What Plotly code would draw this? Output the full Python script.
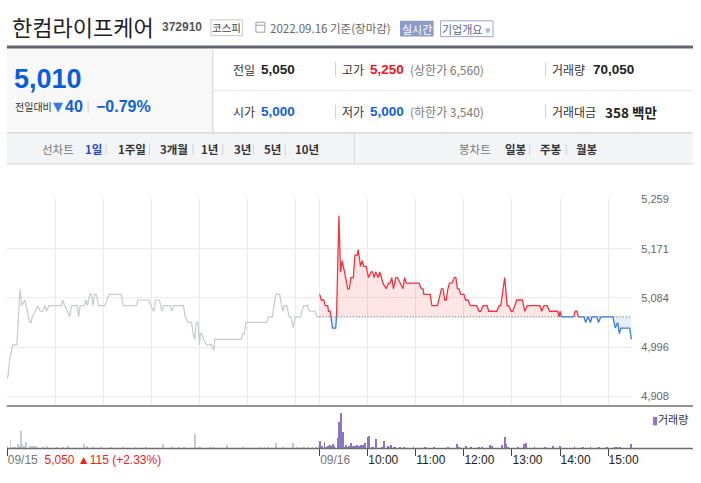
import plotly.graph_objects as go

# ---------------- data ----------------
stock_name = "한컴라이프케어"
stock_code = "372910"
market = "코스피"
as_of = "2022.09.16 기준(장마감)"
current_price = "5,010"
change_abs = "40"
change_pct = "−0.79%"
prev_close = 5050

info_row1 = [("전일", "5,050", "#222"), ("고가", "5,250", "#f0141e"), ("거래량", "70,050", "#222")]
info_row2 = [("시가", "5,000", "#1060d8"), ("저가", "5,000", "#1060d8"), ("거래대금", "358 백만", "#222")]
limit_texts = ["(상한가 6,560)", "(하한가 3,540)"]

line_tabs = ["1일", "1주일", "3개월", "1년", "3년", "5년", "10년"]
candle_tabs = ["일봉", "주봉", "월봉"]

day1_time = ["09:00","09:01","09:03","09:05","09:07","09:12","09:16","09:18","09:22","09:25",
             "09:28","09:30","09:31","09:35","09:38","09:41","09:44","09:47","09:49","09:52",
             "10:08","10:09","10:12","10:15","10:18","10:20","10:27","10:29","10:31","10:36",
             "10:38","10:40","10:43","10:45","10:47","10:49","10:51","10:54","11:02","11:07",
             "11:22","11:25","11:41","11:43","11:57","11:59","12:03","12:05","12:10","12:13",
             "12:15","12:24","12:25","12:28","12:40","12:42","12:46","12:50","12:52","12:54",
             "12:56","12:58","13:00","13:01","13:03","13:05","13:09","13:15","13:18","13:19",
             "13:52","13:54","13:56","13:58","14:24","14:26","14:31","14:35","14:40","14:44",
             "14:46","14:49","14:52","14:54","14:57","14:59","15:06","15:10","15:15","15:17",
             "15:24","15:27","15:30"]
day1_price = [4940,4945,4975,4990,5000,5000,5100,5070,5080,5060,
              5040,5040,5050,5060,5070,5060,5060,5070,5060,5070,
              5070,5080,5070,5060,5050,5070,5070,5050,5070,5070,
              5080,5070,5090,5090,5070,5090,5090,5070,5070,5090,
              5090,5070,5070,5080,5080,5070,5060,5080,5080,5060,
              5070,5070,5060,5070,5070,5050,5040,5040,5020,5010,
              5040,5040,5000,5020,5020,5010,5000,5000,4990,5010,
              5010,5020,5020,5040,5040,5050,5050,5090,5090,5060,
              5070,5070,5050,5050,5030,5050,5050,5070,5070,5060,
              5060,5050,5050]

day2_time = ["09:00","09:02","09:05","09:07","09:10","09:11","09:13","09:14","09:16","09:20",
             "09:21","09:24","09:26","09:28","09:31","09:35","09:37","09:39","09:42","09:44",
             "09:47","09:48","09:51","09:53","09:55","09:58","10:01","10:04","10:06","10:08",
             "10:10","10:13","10:15","10:17","10:19","10:23","10:26","10:28","10:30","10:32",
             "10:35","10:37","10:40","10:43","10:44","10:46","10:48","11:04","11:07","11:09",
             "11:10","11:18","11:20","11:27","11:32","11:34","11:36","11:38","11:40","11:42",
             "11:45","11:48","11:50","11:52","11:54","11:56","12:00","12:02","12:05","12:08",
             "12:16","12:19","12:21","12:24","12:29","12:31","12:41","12:44","12:46","12:51",
             "12:54","12:56","12:59","13:01","13:04","13:06","13:13","13:16","13:19","13:35",
             "13:37","13:40","13:44","13:47","13:57","13:59","14:00","14:02","14:17","14:19",
             "14:21","14:23","14:30","14:32","14:35","14:38","14:40","14:46","14:48","14:51",
             "15:06","15:09","15:12","15:14","15:16","15:27","15:29"]
day2_price = [5090,5080,5080,5070,5070,5060,5060,5050,5030,5030,
              5050,5230,5130,5150,5130,5100,5100,5120,5120,5160,
              5160,5170,5140,5150,5140,5140,5120,5130,5130,5120,
              5130,5120,5130,5120,5110,5100,5110,5110,5120,5100,
              5120,5120,5110,5100,5100,5120,5110,5110,5100,5100,
              5090,5090,5070,5070,5100,5100,5080,5080,5100,5110,
              5110,5120,5120,5100,5100,5090,5090,5080,5080,5070,
              5070,5060,5060,5070,5070,5060,5060,5070,5070,5120,
              5070,5070,5060,5060,5070,5080,5080,5060,5070,5070,
              5060,5070,5070,5060,5060,5050,5060,5050,5050,5060,
              5060,5050,5050,5040,5050,5040,5050,5050,5040,5050,
              5050,5030,5040,5020,5030,5030,5010]

vol1_time = ["09:00","09:04","09:07","09:10","09:13","09:15","09:17","09:19","09:21","09:23",
             "09:28","09:31","09:33","09:36","09:44","09:50","10:02","10:10","10:16","10:36",
             "10:39","10:47","10:57","11:09","11:24","11:40","11:53","12:14","12:26","12:34",
             "12:40","12:54","12:59","13:01","13:13","13:17","13:34","13:54","14:16","14:21",
             "14:25","14:35","14:44","14:57","15:02","15:06","15:10","15:15","15:21","15:25",
             "15:29"]
vol1 = [680,2250,330,330,1180,750,4330,1080,750,1750,
        750,500,500,500,250,750,250,330,500,1080,
        500,250,330,250,250,250,250,1080,330,250,
        250,3580,330,250,330,250,830,250,330,330,
        250,1500,250,1330,330,250,250,250,330,250,
        830]

vol2_time = ["09:00","09:02","09:03","09:06","09:08","09:10","09:13","09:15","09:16","09:18",
             "09:23","09:24","09:26","09:28","09:29","09:31","09:33","09:35","09:37","09:39",
             "09:41","09:44","09:47","09:49","09:52","09:54","09:56","10:00","10:02","10:05",
             "10:07","10:10","10:18","10:20","10:25","10:28","10:29","10:32","10:34","10:40",
             "10:45","10:57","11:11","11:23","11:40","11:51","11:54","12:03","12:09","12:19",
             "12:22","12:33","12:35","12:48","12:51","12:53","12:55","13:07","13:15","13:17",
             "13:28","13:41","13:51","14:00","14:18","14:29","14:38","14:49","14:59","15:08",
             "15:11","15:15","15:29"]
vol2 = [2000,250,500,1680,250,680,1000,500,1180,680,
        2680,6750,9000,2830,4180,330,830,330,500,1430,
        680,680,830,680,830,1000,1330,2830,3180,330,
        330,2430,330,1930,680,330,1000,330,330,250,
        330,250,330,330,250,1080,330,580,250,330,
        330,930,580,830,2830,1080,250,330,1180,1330,
        250,250,680,580,250,250,250,330,250,330,
        330,330,1080]

price_ticks = [4908, 4996, 5084, 5171, 5259]
day_labels = ["09/15", "09/16"]
hour_labels = ["10:00", "11:00", "12:00", "13:00", "14:00", "15:00"]
day1_change = "5,050 ▲115 (+2.33%)"

# ---------------- helpers ----------------
W, H = 701, 483
def PX(x): return x / W
def PY(y): return 1 - y / H
def tmin(s):
    h, m = s.split(":")
    return (int(h) - 9) * 60 + int(m)

SESSION = 390
x1 = [tmin(t) for t in day1_time]
x2 = [SESSION + tmin(t) for t in day2_time]
vx1 = [tmin(t) for t in vol1_time]
vx2 = [SESSION + tmin(t) for t in vol2_time]

KR = "Noto Sans CJK KR"
AR = "Liberation Sans"
RED = "#f5333f"
BLUE = "#3a7be0"

# split day-2 line into above/below previous-close segments
red_x, red_y, blue_x, blue_y = [], [], [], []
for i in range(len(day2_price) - 1):
    a, b = day2_price[i], day2_price[i + 1]
    is_red = min(a, b) >= prev_close and max(a, b) > prev_close
    tx, ty = (red_x, red_y) if is_red else (blue_x, blue_y)
    if tx and tx[-1] == x2[i] and ty[-1] == a:
        tx.append(x2[i + 1]); ty.append(b)
    else:
        if tx:
            tx.append(None); ty.append(None)
        tx += [x2[i], x2[i + 1]]; ty += [a, b]

fig = go.Figure()
nohover = dict(hoverinfo="skip", showlegend=False)

fig.add_trace(go.Scatter(x=x1, y=day1_price, mode="lines",
                         line=dict(color="#c6c9cf", width=1.2), **nohover))
fig.add_trace(go.Scatter(x=[x2[0], x2[-1]], y=[prev_close, prev_close], mode="lines",
                         line=dict(width=0), **nohover))
fig.add_trace(go.Scatter(x=x2, y=[max(v, prev_close) for v in day2_price], mode="lines",
                         line=dict(width=0), fill="tonexty",
                         fillcolor="rgba(245,70,80,0.14)", **nohover))
fig.add_trace(go.Scatter(x=[x2[0], x2[-1]], y=[prev_close, prev_close], mode="lines",
                         line=dict(width=0), **nohover))
fig.add_trace(go.Scatter(x=x2, y=[min(v, prev_close) for v in day2_price], mode="lines",
                         line=dict(width=0), fill="tonexty",
                         fillcolor="rgba(58,123,224,0.13)", **nohover))
fig.add_trace(go.Scatter(x=[x2[0], x2[-1]], y=[prev_close, prev_close], mode="lines",
                         line=dict(color="#555", width=1, dash="1px,2px"), **nohover))
fig.add_trace(go.Scatter(x=red_x, y=red_y, mode="lines",
                         line=dict(color=RED, width=1.3), **nohover))
fig.add_trace(go.Scatter(x=blue_x, y=blue_y, mode="lines",
                         line=dict(color=BLUE, width=1.3), **nohover))

fig.add_trace(go.Bar(x=vx1, y=vol1, width=1.1, marker=dict(color="#c6c9cf", line=dict(width=0)),
                     xaxis="x2", yaxis="y2", **nohover))
fig.add_trace(go.Bar(x=vx2, y=vol2, width=1.1, marker=dict(color="#8b76c6", line=dict(width=0)),
                     xaxis="x2", yaxis="y2", **nohover))

grid_vals = [h * 60 for h in range(0, 7)] + [SESSION + h * 60 for h in range(0, 7)]
xdom = [PX(7), PX(638.5)]
xrange_ = [-0.4, 2 * SESSION]

label_vals = [0, SESSION] + [SESSION + 60 * (k + 1) for k in range(len(hour_labels))]
label_text = ([day_labels[0] + "  <span style='color:#ee2222'>" + day1_change + "</span>",
               day_labels[1]] +
              ["<span style='color:#222'>" + h + "</span>" for h in hour_labels])

fig.update_layout(
    width=W, height=H, margin=dict(l=0, r=0, t=0, b=0),
    paper_bgcolor="white", plot_bgcolor="white", hovermode=False,
    bargap=0, showlegend=False,
    xaxis=dict(domain=xdom, range=xrange_, anchor="y", tickvals=grid_vals,
               showticklabels=False, showgrid=True, gridcolor="#ebebeb", gridwidth=1,
               zeroline=False, showline=False, ticks=""),
    yaxis=dict(domain=[PY(405), PY(195.6)], range=[4891.3, 5259.6], side="right",
               tickvals=price_ticks, ticktext=[f"{v:,}" for v in price_ticks],
               tickfont=dict(family=AR, size=11, color="#666"),
               ticks="outside", ticklen=6, tickcolor="rgba(0,0,0,0)",
               showgrid=True, gridcolor="#ebebeb", zeroline=False, showline=False),
    xaxis2=dict(domain=xdom, range=xrange_, anchor="y2", tickvals=label_vals,
                ticktext=label_text, ticks="outside", ticklen=7, tickcolor="#444",
                ticklabelposition="outside right",
                tickfont=dict(family=AR, size=12, color="#777"),
                showgrid=False, zeroline=False, showline=False),
    yaxis2=dict(domain=[PY(448), PY(405)], range=[0, 10750], visible=False,
                showgrid=False, zeroline=False),
)

shapes = []
def line(x0, y0, x1_, y1, color, width=1):
    shapes.append(dict(type="line", xref="paper", yref="paper", x0=PX(x0), y0=PY(y0),
                       x1=PX(x1_), y1=PY(y1), line=dict(color=color, width=width)))
def rect(x0, y0, x1_, y1, fill=None, lc=None, lw=1):
    shapes.append(dict(type="rect", xref="paper", yref="paper", x0=PX(x0), y0=PY(y0),
                       x1=PX(x1_), y1=PY(y1), fillcolor=fill or "rgba(0,0,0,0)",
                       line=dict(color=lc or "rgba(0,0,0,0)", width=lw if lc else 0),
                       layer="below"))

rect(213, 14, 245, 30, lc="#c8c8c8")
rect(258.5, 16.5, 267.5, 26.5, lc="#a0a0a0")
line(258.5, 19.5, 267.5, 19.5, "#a0a0a0")
rect(404, 15, 438, 31, fill="#8c9bc8")
rect(445, 15, 498, 31, fill="white", lc="#98a4d0")
line(7, 41.5, 700, 41.5, "#62666f", 3)
rect(7, 43, 215, 128, fill="#f8f8f9")
line(215, 43, 215, 128, "#d2d2d2")
line(215, 85.5, 700, 85.5, "#e8e8e8")
for yy in (64, 107):
    line(339, yy - 7, 339, yy + 7, "#cfcfcf")
    line(551, yy - 7, 551, yy + 7, "#cfcfcf")
line(89, 96, 89, 108, "#cfcfcf")
line(7, 128.5, 700, 128.5, "#c4c4c4")
rect(7, 129, 700, 160, fill="#f3f4f6")
line(7, 160, 700, 160, "#d9d9d9")
line(358, 129, 358, 160, "#d9d9d9")
for sx in (107, 151, 195, 225, 256, 288, 535, 572):
    line(sx, 140, sx, 151, "#d0d0d0")
line(7, 405, 700, 405, "#6e6e6e", 1.5)
line(7, 448, 700, 448, "#6e6e6e", 1.5)
fig.update_layout(shapes=shapes)

anns = []
def txt(x, y, s, size, color, family=KR, xanchor="left"):
    anns.append(dict(x=PX(x), y=PY(y), xref="paper", yref="paper", text=s, showarrow=False,
                     xanchor=xanchor, yanchor="middle", font=dict(family=family, size=size, color=color)))

txt(10, 20, stock_name, 22, "#1d1d26")
txt(162, 21, "<b>" + stock_code + "</b>", 12, "#555", AR)
txt(229, 22, market, 10.5, "#444", xanchor="center")
txt(271, 22, as_of, 11.5, "#666")
txt(421, 23, "실시간", 11, "white", xanchor="center")
txt(471.5, 23, "기업개요 <span style='color:#a8b2d8'>▾</span>", 11, "#55669a", xanchor="center")

txt(12, 74, "<b>" + current_price + "</b>", 27, "#0b5ed7", AR)
txt(13, 102, "전일대비", 10, "#333")
txt(52, 102, "▼", 13, BLUE, "DejaVu Sans")
txt(64, 102, "<b>" + change_abs + "</b>", 16, "#1060d8", AR)
txt(95, 102, "<b>" + change_pct + "</b>", 16, "#1060d8", AR)

xs_label = [233, 343, 556]
xs_value = [262, 372, 597]
for row, yy in ((info_row1, 64), (info_row2, 107)):
    for k, (lab, val, col) in enumerate(row):
        txt(xs_label[k], yy, lab, 12, "#333")
        vx = xs_value[k] + (12 if (k == 2 and row is info_row2) else 0)
        txt(vx, yy, "<b>" + val + "</b>", 13.5, col, KR if "백만" in val else AR)
txt(412, 64, limit_texts[0], 12, "#777")
txt(412, 107, limit_texts[1], 12, "#777")

txt(40, 145, "선차트", 11.5, "#777")
tab_x = [84, 117, 160, 201, 234, 265, 296]
for k, t in enumerate(line_tabs):
    txt(tab_x[k], 145, "<b>" + t + "</b>", 11.5, "#1c4fbf" if k == 0 else "#333")
txt(462, 145, "봉차트", 11.5, "#777")
for k, t in enumerate(candle_tabs):
    txt([508, 543, 580][k], 145, "<b>" + t + "</b>", 11.5, "#333")

txt(657, 418, "<span style='color:#8b76c6'>▮</span>거래량", 11, "#333")
fig.update_layout(annotations=anns)

fig.write_html("out.html", config={"displayModeBar": False},
               post_script="document.body.style.margin='0';document.body.style.padding='0';"
                           "document.body.style.overflow='hidden';")
